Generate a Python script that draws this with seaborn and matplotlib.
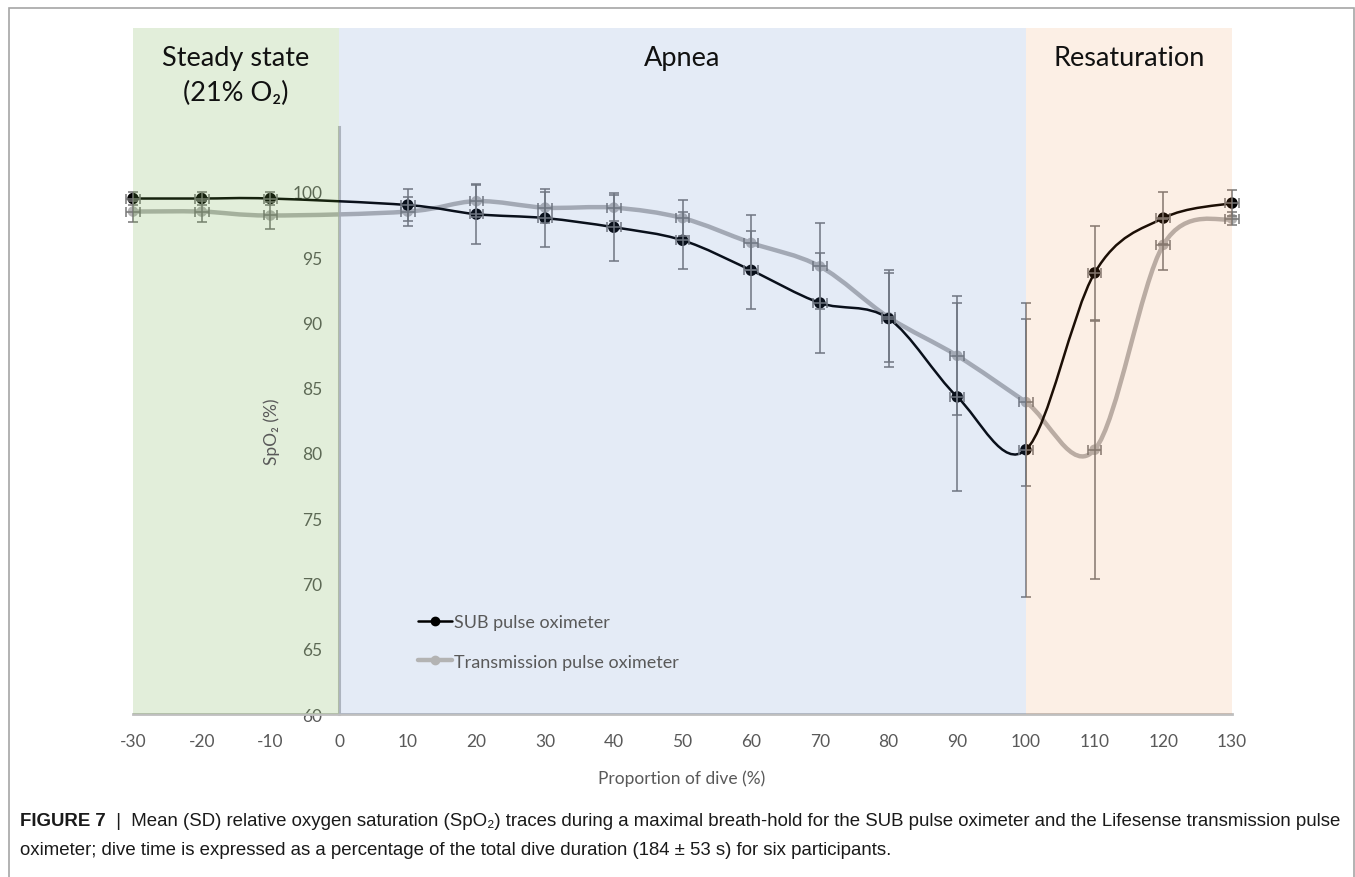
import numpy as np
import pandas as pd
import matplotlib
matplotlib.use("Agg")
import matplotlib.pyplot as plt
import seaborn as sns
from matplotlib.path import Path
from matplotlib.patches import PathPatch, Rectangle
from matplotlib.lines import Line2D

# proportion of dive (%) - no sample at 0
dive_pct = [-30, -20, -10, 10, 20, 30, 40, 50, 60, 70, 80, 90, 100, 110, 120, 130]
sub_mean = [99.5, 99.5, 99.5, 99.0, 98.3, 98.0, 97.3, 96.3, 94.0, 91.5, 90.3, 84.3, 80.25, 93.8, 98.0, 99.15]
sub_sd = [0.5, 0.5, 0.5, 1.2, 2.3, 2.2, 2.6, 2.2, 3.0, 3.8, 3.7, 7.2, 11.25, 3.6, 2.0, 1.0]
trans_mean = [98.5, 98.5, 98.2, 98.5, 99.3, 98.8, 98.8, 98.0, 96.1, 94.3, 90.4, 87.45, 83.9, 80.25, 95.95, 97.95]
trans_sd = [0.8, 0.8, 1.0, 1.1, 1.2, 1.2, 1.0, 1.35, 2.1, 3.3, 3.4, 4.55, 6.4, 9.9, 1.95, 0.5]
time_sd = [1.0, 1.0, 1.0, 1.0, 1.0, 1.0, 1.0, 1.0, 1.0, 1.0, 1.0, 1.0, 1.0, 1.0, 1.0, 1.0]

phases = ["Steady state", "Apnea", "Resaturation"]
phase_start = [-30, 0, 100]
phase_end = [0, 100, 130]
phase_colors = ["#70ad47", "#4472c4", "#ed7d31"]
phase_alpha = [0.2, 0.14, 0.12]

series = ["SUB pulse oximeter", "Transmission pulse oximeter"]

df = pd.DataFrame({
    "dive": dive_pct * 2,
    "spo2": sub_mean + trans_mean,
    "sd": sub_sd + trans_sd,
    "xsd": time_sd * 2,
    "device": [series[0]] * len(dive_pct) + [series[1]] * len(dive_pct),
})

sns.set_theme(style="white")
plt.rcParams["font.family"] = ["Lato", "DejaVu Sans"]
plt.rcParams["axes.unicode_minus"] = False

W, H = 1355, 878
fig = plt.figure(figsize=(W / 100, H / 100), dpi=100)
ax = fig.add_axes([133 / W, (H - 715) / H, 1099 / W, (715 - 29) / H])


def smooth_path(xs, ys):
    # Excel style smoothed line (cubic bezier through the points)
    pts = np.column_stack([xs, ys]).astype(float)
    n = len(pts)
    verts = [pts[0]]
    codes = [Path.MOVETO]
    for i in range(n - 1):
        p0 = pts[i - 1] if i > 0 else pts[i]
        p1 = pts[i]
        p2 = pts[i + 1]
        p3 = pts[i + 2] if i + 2 < n else pts[i + 1]
        verts += [p1 + (p2 - p0) / 6, p2 - (p3 - p1) / 6, p2]
        codes += [Path.CURVE4] * 3
    return Path(verts, codes)


def py(p):
    # pixel row of the reference -> data y
    return 60 + (715 - p) / 13.05


styles = {
    series[1]: dict(color="#b3b3b3", lw=3.2, ms=58, z=3),
    series[0]: dict(color="#000000", lw=1.8, ms=68, z=5),
}

for name in [series[1], series[0]]:
    d = df[df["device"] == name]
    st = styles[name]
    ax.add_patch(PathPatch(smooth_path(d["dive"], d["spo2"]), fill=False,
                           edgecolor=st["color"], lw=st["lw"], zorder=st["z"],
                           capstyle="round", joinstyle="round"))
    sns.scatterplot(data=d, x="dive", y="spo2", color=st["color"], s=st["ms"],
                    edgecolor="none", zorder=st["z"] + 0.5, ax=ax, legend=False,
                    clip_on=False)

for name in series:
    d = df[df["device"] == name]
    eb = ax.errorbar(d["dive"], d["spo2"], yerr=d["sd"], xerr=d["xsd"], fmt="none",
                     ecolor="#767676", elinewidth=1.1, capsize=3.3, capthick=1.1, zorder=7)
    for art in eb.lines[1] + eb.lines[2]:
        art.set_clip_on(False)

# phase shading drawn over the data, like the original
for x0, x1, c, a in zip(phase_start, phase_end, phase_colors, phase_alpha):
    ax.axvspan(x0, x1, ymin=0, ymax=1, color=c, alpha=a, lw=0, zorder=10)

hdr = dict(ha="center", va="center", fontsize=19.5, color="#111111", zorder=12)
ax.text(-15, py(58), phases[0], **hdr)
ax.text(-15, py(93), "(21% O\u2082)", **hdr)
ax.text(50, py(58), phases[1], **hdr)
ax.text(115, py(58), phases[2], **hdr)

ax.set_xlim(-30, 130)
ax.set_ylim(60, py(29))
ax.set_xticks(range(-30, 131, 10))
ax.set_yticks(range(60, 101, 5))
ax.tick_params(axis="both", length=0, colors="#595959", labelsize=12.5)
ax.tick_params(axis="y", pad=12)
ax.tick_params(axis="x", pad=14)
ax.set_xlabel("")
ax.set_ylabel("")

for s in ["top", "right"]:
    ax.spines[s].set_visible(False)
ax.spines["left"].set_position(("data", 0))
ax.spines["left"].set_bounds(60, 105)
ax.spines["left"].set_color("#bfbfbf")
ax.spines["left"].set_linewidth(2.2)
ax.spines["bottom"].set_color("#bfbfbf")
ax.spines["bottom"].set_linewidth(2.0)
ax.patch.set_alpha(0)

fig.text(272 / W, 1 - 432 / H, "SpO\u2082 (%)", rotation=90, ha="center", va="center",
         fontsize=12.5, color="#595959")
fig.text(682 / W, 1 - 779 / H, "Proportion of dive (%)", ha="center", va="center",
         fontsize=12.5, color="#595959")

handles = [
    Line2D([], [], color="#000000", lw=1.8, marker="o", ms=6),
    Line2D([], [], color="#b3b3b3", lw=3.2, marker="o", ms=6),
]
leg = ax.legend(handles, series, loc="center left", bbox_to_anchor=(0.2965, 1 - 643 / H),
                bbox_transform=fig.transFigure, frameon=False, fontsize=13,
                handlelength=1.9, handletextpad=0.1, labelspacing=1.3)
for t in leg.get_texts():
    t.set_color("#595959")
leg.set_zorder(12)

# outer frame
fig.patches.append(Rectangle((9 / W, -0.01), (1354 - 9) / W, 1 - 9 / H + 0.01,
                             transform=fig.transFigure, fill=False,
                             edgecolor="#a6a6a6", lw=1.2))

cap_font = ["Liberation Sans", "DejaVu Sans"]
head = fig.text(20 / W, 1 - 822 / H, "FIGURE 7", fontsize=13.4, fontweight="bold",
                family=cap_font, color="#1a1a1a", va="center", ha="left")
ax.annotate("  |  Mean (SD) relative oxygen saturation (SpO\u2082) traces during a maximal "
            "breath-hold for the SUB pulse oximeter and the Lifesense transmission pulse",
            xy=(1, 0.5), xycoords=head, va="center", ha="left", fontsize=13.4,
            family=cap_font, color="#1a1a1a", annotation_clip=False)
fig.text(20 / W, 1 - 851 / H, "oximeter; dive time is expressed as a percentage of the total "
         "dive duration (184 \u00b1 53 s) for six participants.", fontsize=13.4,
         family=cap_font, color="#1a1a1a", va="center", ha="left")

fig.savefig("out.png", dpi=100)
